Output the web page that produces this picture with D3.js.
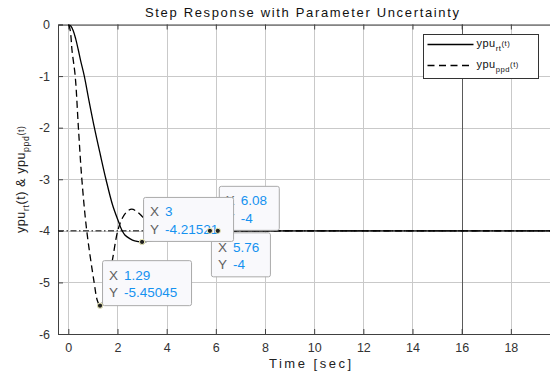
<!DOCTYPE html>
<html>
<head>
<meta charset="utf-8">
<script src="https://cdn.jsdelivr.net/npm/d3@7"></script>
<style>
  body { margin: 0; background: #fff; }
  svg { display: block; font-family: "Liberation Sans", Arial, sans-serif; }
</style>
</head>
<body>
<div id="chart"></div>
<script>
// step response samples
const tRt = [0, 0.1, 0.2, 0.3, 0.4, 0.5, 0.65, 0.85, 1.06, 1.3, 1.53, 1.8, 2.04, 2.17, 2.3, 2.5, 2.7, 3.0, 3.4, 3.8, 4.3, 4.8, 5.3, 5.76, 8, 12, 16, 20];
const yRt = [0, -0.03, -0.12, -0.28, -0.48, -0.7, -1.0, -1.5, -2.0, -2.52, -3.0, -3.5, -3.82, -3.98, -4.08, -4.15, -4.195, -4.215, -4.19, -4.14, -4.08, -4.04, -4.015, -4.0, -4.0, -4.0, -4.0, -4.0];

const tPpd = [0, 0.05, 0.1, 0.15, 0.28, 0.41, 0.55, 0.75, 1.05, 1.18, 1.29, 1.4, 1.63, 1.8, 2.01, 2.2, 2.4, 2.58, 2.8, 3.0, 3.3, 3.6, 4.0, 4.5, 5.0, 6.08, 10, 15, 20];
const yPpd = [0, -0.05, -0.2, -0.5, -1.0, -2.0, -3.0, -4.0, -5.0, -5.35, -5.45, -5.38, -5.0, -4.55, -4.0, -3.75, -3.62, -3.58, -3.63, -3.72, -3.88, -3.98, -4.05, -4.04, -4.01, -4.0, -4.0, -4.0, -4.0];

const xTicks = [0, 2, 4, 6, 8, 10, 12, 14, 16, 18];
const yTicks = [0, -1, -2, -3, -4, -5, -6];
const refLevel = -4;

// data tips
const tipX = [6.08, 5.76, 3, 1.29];
const tipY = [-4, -4, -4.21521, -5.45045];
const tipXText = ['6.08', '5.76', '3', '1.29'];
const tipYText = ['-4', '-4', '-4.21521', '-5.45045'];

const width = 550, height = 374;
const pLeft = 58, pRight = 560, pTop = 24.5, pBottom = 334;

const svg = d3.select('#chart').append('svg')
    .attr('width', width)
    .attr('height', height);

const x = d3.scaleLinear().domain([-0.42, 20]).range([pLeft, pRight]);
const y = d3.scaleLinear().domain([-6, 0]).range([pBottom, pTop]);

svg.append('defs').append('clipPath').attr('id', 'plot')
    .append('rect').attr('x', pLeft).attr('y', pTop)
    .attr('width', pRight - pLeft).attr('height', pBottom - pTop);

// grid
const grid = svg.append('g').attr('stroke', '#c9c9c9').attr('stroke-width', 1);
grid.selectAll('.gx').data(xTicks).join('line')
    .attr('x1', d => Math.round(x(d)) + 0.5).attr('x2', d => Math.round(x(d)) + 0.5)
    .attr('y1', pTop).attr('y2', pBottom);
grid.selectAll('.gy').data(yTicks).join('line')
    .attr('x1', pLeft).attr('x2', pRight)
    .attr('y1', d => Math.round(y(d)) + 0.5).attr('y2', d => Math.round(y(d)) + 0.5);

// darker vertical line at t = 16
svg.append('line')
    .attr('x1', Math.round(x(16)) + 0.5).attr('x2', Math.round(x(16)) + 0.5)
    .attr('y1', pTop).attr('y2', pBottom)
    .attr('stroke', '#5a5a5a').attr('stroke-width', 1);

// axes
const xAxis = d3.axisBottom(x).tickValues(xTicks).tickSize(-5).tickPadding(9).tickFormat(d3.format('d'));
const yAxis = d3.axisLeft(y).tickValues(yTicks).tickSize(-5).tickPadding(8).tickFormat(d => d < 0 ? '-' + Math.abs(d) : d);

const gx = svg.append('g').attr('transform', `translate(0,${pBottom})`).call(xAxis);
const gy = svg.append('g').attr('transform', `translate(${pLeft},0)`).call(yAxis);
const gxTop = svg.append('g').attr('transform', `translate(0,${pTop})`)
    .call(d3.axisTop(x).tickValues(xTicks).tickSize(-5).tickFormat(''));
const gyRight = svg.append('g').attr('transform', `translate(${pRight},0)`)
    .call(d3.axisRight(y).tickValues(yTicks).tickSize(-5).tickFormat(''));

[gx, gy, gxTop, gyRight].forEach(g => {
    g.select('.domain').attr('stroke', '#404040');
    g.selectAll('.tick line').attr('stroke', '#404040');
    g.selectAll('.tick text').attr('fill', '#333').attr('font-size', 12.5)
        .attr('font-family', '"Liberation Sans", Arial, sans-serif');
});

// reference dash-dot line
const plot = svg.append('g').attr('clip-path', 'url(#plot)');
plot.append('line')
    .attr('x1', pLeft).attr('x2', pRight)
    .attr('y1', y(refLevel)).attr('y2', y(refLevel))
    .attr('stroke', '#000').attr('stroke-width', 1)
    .attr('stroke-dasharray', '6,2.5,1.5,2.5');

const line = d3.line().curve(d3.curveCatmullRom.alpha(0.5)).x(d => x(d[0])).y(d => y(d[1]));

plot.append('path')
    .datum(d3.zip(tPpd, yPpd))
    .attr('d', line)
    .attr('fill', 'none').attr('stroke', '#000').attr('stroke-width', 1.3)
    .attr('stroke-dasharray', '7,4');

plot.append('path')
    .datum(d3.zip(tRt, yRt))
    .attr('d', line)
    .attr('fill', 'none').attr('stroke', '#000').attr('stroke-width', 1.3);

// title + labels
svg.append('text')
    .attr('x', 302).attr('y', 17)
    .attr('text-anchor', 'middle')
    .attr('font-size', 13).attr('fill', '#111')
    .attr('textLength', 314).attr('lengthAdjust', 'spacing')
    .text('Step Response with Parameter Uncertainty');

svg.append('text')
    .attr('x', 310).attr('y', 368)
    .attr('text-anchor', 'middle')
    .attr('font-size', 13).attr('fill', '#222')
    .attr('textLength', 82).attr('lengthAdjust', 'spacing')
    .text('Time [sec]');

// rich text helper: [text, 'n'|'sub'|'sup']
function rich(sel, parts, size) {
    let shift = 0;
    parts.forEach(([s, kind]) => {
        const target = kind === 'sub' ? size * 0.33 : kind === 'sup' ? -size * 0.08 : 0;
        sel.append('tspan')
            .attr('dy', target - shift)
            .attr('font-size', kind === 'n' ? size : size * 0.7)
            .text(s);
        shift = target;
    });
}

const ylab = svg.append('text')
    .attr('transform', `translate(25,${(pTop + pBottom) / 2}) rotate(-90)`)
    .attr('text-anchor', 'middle')
    .attr('font-size', 12.5).attr('fill', '#222')
    .attr('letter-spacing', 0.6);
rich(ylab, [['ypu', 'n'], ['rt', 'sub'], ['(t) & ypu', 'n'], ['ppd', 'sub'], ['(t)', 'sup']], 12.5);

// data tips
const tipBoxes = [
    { dx: 1, dy: -45, w: 60, h: 44 },
    { dx: 1, dy: 1.5, w: 59, h: 44 },
    { dx: 1, dy: -45, w: 90, h: 44 },
    { dx: 2, dy: -45.5, w: 89, h: 45 }
];
tipX.forEach((tx, i) => {
    const px = x(tx), py = y(tipY[i]);
    const b = tipBoxes[i];
    const g = svg.append('g').attr('transform', `translate(${px + b.dx},${py + b.dy})`);
    g.append('rect').attr('x', 0.5).attr('y', 0.5).attr('width', b.w).attr('height', b.h)
        .attr('rx', 2).attr('fill', '#f9f9fc').attr('stroke', '#aaa').attr('stroke-width', 1);
    [['X', tipXText[i], 19.5], ['Y', tipYText[i], 37]].forEach(([lab, val, by]) => {
        g.append('text').attr('x', 7).attr('y', by).attr('font-size', 13.5)
            .attr('fill', '#606060').text(lab);
        g.append('text').attr('x', 22).attr('y', by).attr('font-size', 13.5)
            .attr('fill', '#1592f0').text(val);
    });
});
tipX.forEach((tx, i) => {
    svg.append('circle').attr('cx', x(tx)).attr('cy', y(tipY[i])).attr('r', 2.6)
        .attr('fill', '#222').attr('stroke', '#eeeebb').attr('stroke-width', 1);
});

// legend
const leg = svg.append('g').attr('transform', 'translate(423.5,34.5)');
leg.append('rect').attr('width', 115).attr('height', 44)
    .attr('fill', '#fff').attr('stroke', '#333').attr('stroke-width', 1);
const legendItems = [
    { sub: 'rt', dash: null, yy: 10 },
    { sub: 'ppd', dash: '7,4.5', yy: 31 }
];
legendItems.forEach(it => {
    leg.append('line').attr('x1', 4).attr('x2', 50).attr('y1', it.yy).attr('y2', it.yy)
        .attr('stroke', '#000').attr('stroke-width', 1.3)
        .attr('stroke-dasharray', it.dash);
    const t = leg.append('text').attr('x', 53).attr('y', it.yy + 2.5)
        .attr('font-size', 11).attr('fill', '#111').attr('letter-spacing', 0.5);
    rich(t, [['ypu', 'n'], [it.sub, 'sub'], ['(t)', 'sup']], 11);
});
</script>
</body>
</html>
